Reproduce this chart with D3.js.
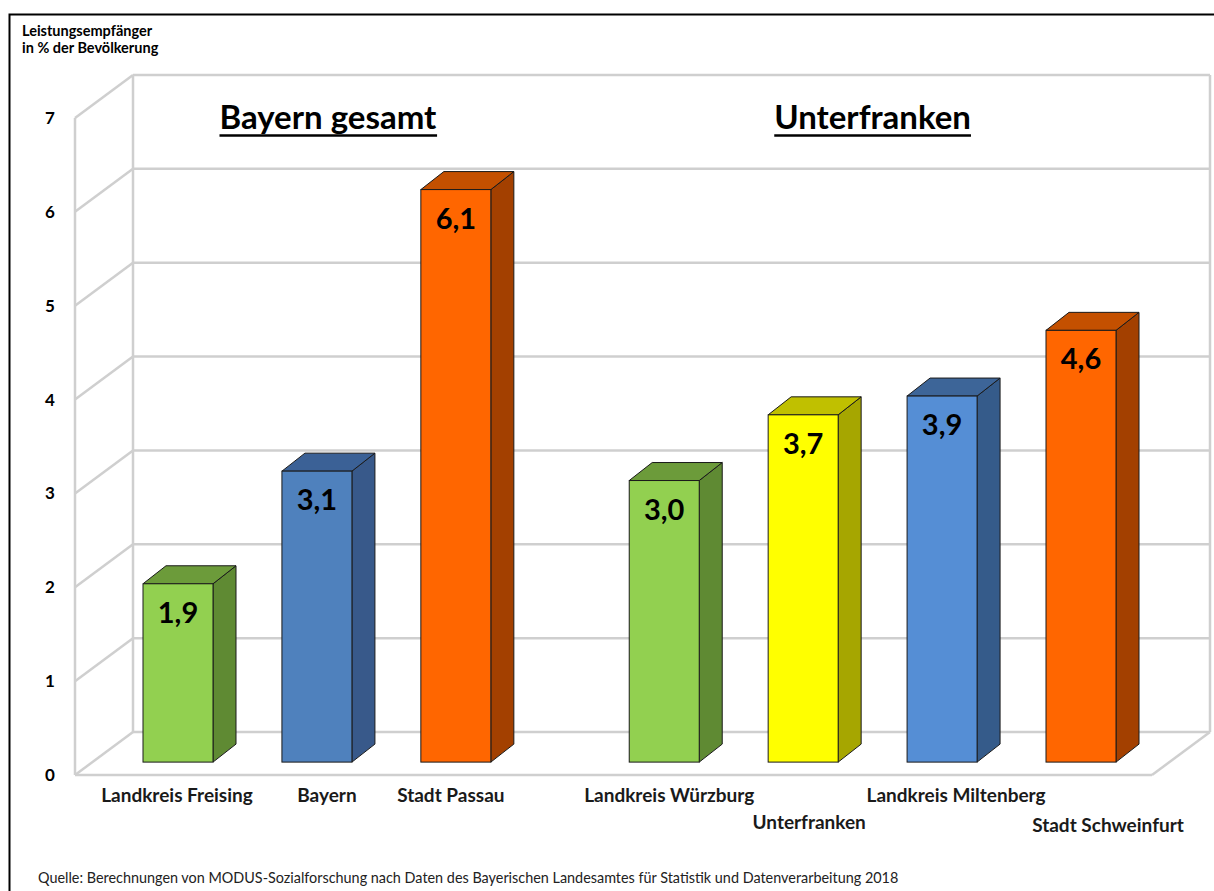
<!DOCTYPE html>
<html><head><meta charset="utf-8">
<script src="https://cdn.jsdelivr.net/npm/d3@7"></script>
<style>html,body{margin:0;padding:0;background:#fff;}svg{display:block;}</style>
</head><body>
<script>
// ---- data ----
const categories = ["Landkreis Freising","Bayern","Stadt Passau","Landkreis Würzburg","Unterfranken","Landkreis Miltenberg","Stadt Schweinfurt"];
const values = [1.9, 3.1, 6.1, 3.0, 3.7, 3.9, 4.6];
const groupOf = ["Bayern gesamt","Bayern gesamt","Bayern gesamt","Unterfranken","Unterfranken","Unterfranken","Unterfranken"];
const groupTitles = ["Bayern gesamt","Unterfranken"];
const colorKeys = ["green","blue","orange","green","yellow","lightblue","orange"];
const yTicks = [0,1,2,3,4,5,6,7];
const yTitle = ["Leistungsempfänger","in % der Bevölkerung"];
const source = "Quelle: Berechnungen von MODUS-Sozialforschung nach Daten des Bayerischen Landesamtes für Statistik und Datenverarbeitung 2018";

const palette = {
  green:     {front:"#92d050", top:"#6c9b3a", side:"#5f8a33"},
  blue:      {front:"#4f81bd", top:"#3b6196", side:"#38598a"},
  orange:    {front:"#ff6600", top:"#c45000", side:"#a34000"},
  yellow:    {front:"#ffff00", top:"#c0c000", side:"#a6a600"},
  lightblue: {front:"#558ed5", top:"#3d6598", side:"#355b8a"}
};

const W = 1214, H = 891;
const FONT = "Lato, 'Open Sans', sans-serif";
const svg = d3.select("body").append("svg").attr("width", W).attr("height", H);

// outer frame
svg.append("rect").attr("x",9.5).attr("y",14.5).attr("width",1300).attr("height",1000)
  .attr("fill","none").attr("stroke","#000").attr("stroke-width",2);

// 3D geometry
const DX = 58, DY = 43;            // wall depth
const y = d3.scaleLinear().domain([0,7]).range([775,118]);   // front plane
const frontLeft = 75, frontRight = 1152;

// slot positions (gap of half a slot between groups)
const slotIndex = categories.map((c,i) => i + (groupOf[i] !== groupOf[0] ? 0.5 : 0));
const xs = d3.scaleLinear().domain([0, 6.5]).range([143, 1046]);
const barW = 70;
const zOff = 0.3;                 // bar front position in depth
const bDX = 23, bDY = 18;         // bar depth

const grid = svg.append("g").attr("fill","none").attr("stroke","#cfcfcf").attr("stroke-width",2.5);
// back wall gridlines
yTicks.forEach(t => {
  grid.append("line").attr("x1",frontLeft+DX).attr("x2",frontRight+DX)
    .attr("y1",y(t)-DY).attr("y2",y(t)-DY);
  grid.append("line").attr("x1",frontLeft).attr("y1",y(t))
    .attr("x2",frontLeft+DX).attr("y2",y(t)-DY);
});
// wall edges
grid.append("line").attr("x1",frontLeft+DX).attr("x2",frontLeft+DX).attr("y1",y(0)-DY).attr("y2",y(7)-DY);
grid.append("line").attr("x1",frontRight+DX).attr("x2",frontRight+DX).attr("y1",y(0)-DY).attr("y2",y(7)-DY);
grid.append("line").attr("x1",frontLeft).attr("x2",frontLeft).attr("y1",y(0)).attr("y2",y(7));
grid.append("line").attr("x1",frontLeft).attr("x2",frontRight).attr("y1",y(0)).attr("y2",y(0));
grid.append("line").attr("x1",frontRight).attr("y1",y(0)).attr("x2",frontRight+DX).attr("y2",y(0)-DY);

// y tick labels
svg.append("g").selectAll("text").data(yTicks).join("text")
  .attr("x",50).attr("y",d => y(d)+6).attr("text-anchor","middle")
  .attr("font-family",FONT).attr("font-weight","bold").attr("font-size",17).attr("fill","#000")
  .text(d => d);

// y title
svg.append("g").selectAll("text").data(yTitle).join("text")
  .attr("x",22).attr("y",(d,i) => 36 + i*17)
  .attr("font-family",FONT).attr("font-weight","bold").attr("font-size",14.5).attr("fill","#000")
  .text(d => d);

// bars
const bars = svg.append("g").selectAll("g").data(values).join("g");
bars.each(function(v,i){
  const g = d3.select(this);
  const c = palette[colorKeys[i]];
  const x0 = xs(slotIndex[i]);
  const x1 = x0 + barW;
  const yb = y(0) - DY*zOff;
  const yt = y(v) - DY*zOff;
  const side = [[x1,yb],[x1+bDX,yb-bDY],[x1+bDX,yt-bDY],[x1,yt]];
  const top = [[x0,yt],[x1,yt],[x1+bDX,yt-bDY],[x0+bDX,yt-bDY]];
  const pathFor = pts => "M" + pts.map(p=>p.join(",")).join("L") + "Z";
  g.append("path").attr("d",pathFor(side)).attr("fill",c.side).attr("stroke","#1a1a1a").attr("stroke-width",1);
  g.append("path").attr("d",pathFor(top)).attr("fill",c.top).attr("stroke","#1a1a1a").attr("stroke-width",1);
  g.append("rect").attr("x",x0).attr("y",yt).attr("width",barW).attr("height",yb-yt)
    .attr("fill",c.front).attr("stroke","#1a1a1a").attr("stroke-width",1);
  g.append("text").attr("x",x0+barW/2).attr("y",yt+39).attr("text-anchor","middle")
    .attr("font-family",FONT).attr("font-weight","bold").attr("font-size",29).attr("fill","#000")
    .text(d3.format(".1f")(v).replace(".", ","));
});

// category labels (Unterfranken group staggered)
const labelShift = [-1, 10, -5, 5, 6, 14, 27];
svg.append("g").selectAll("text").data(categories).join("text")
  .attr("x",(d,i) => xs(slotIndex[i]) + barW/2 + labelShift[i])
  .attr("y",(d,i) => (groupOf[i] !== groupOf[0] && (i-3)%2===1) ? (i===6 ? 832 : 829) : 802)
  .attr("text-anchor","middle")
  .attr("font-family",FONT).attr("font-weight","bold").attr("font-size",19).attr("fill","#1a1a1a")
  .text(d => d);

// group titles
groupTitles.forEach(t => {
  const idx = groupOf.map((g,i)=>g===t?i:-1).filter(i=>i>=0);
  const cx = (xs(slotIndex[idx[0]]) + xs(slotIndex[idx[idx.length-1]]) + barW)/2 + (t===groupTitles[0]? 11 : 0);
  const txt = svg.append("text").attr("x",cx).attr("y",129).attr("text-anchor","middle")
    .attr("font-family",FONT).attr("font-weight","bold").attr("font-size",33).attr("fill","#000")
    .text(t);
  const bb = txt.node().getBBox();
  svg.append("line").attr("x1",bb.x).attr("x2",bb.x+bb.width).attr("y1",135.5).attr("y2",135.5)
    .attr("stroke","#000").attr("stroke-width",2.5);
});

// source
svg.append("text").attr("x",38).attr("y",883)
  .attr("font-family",FONT).attr("font-size",14.4).attr("fill","#222")
  .text(source);
</script>
</body></html>
